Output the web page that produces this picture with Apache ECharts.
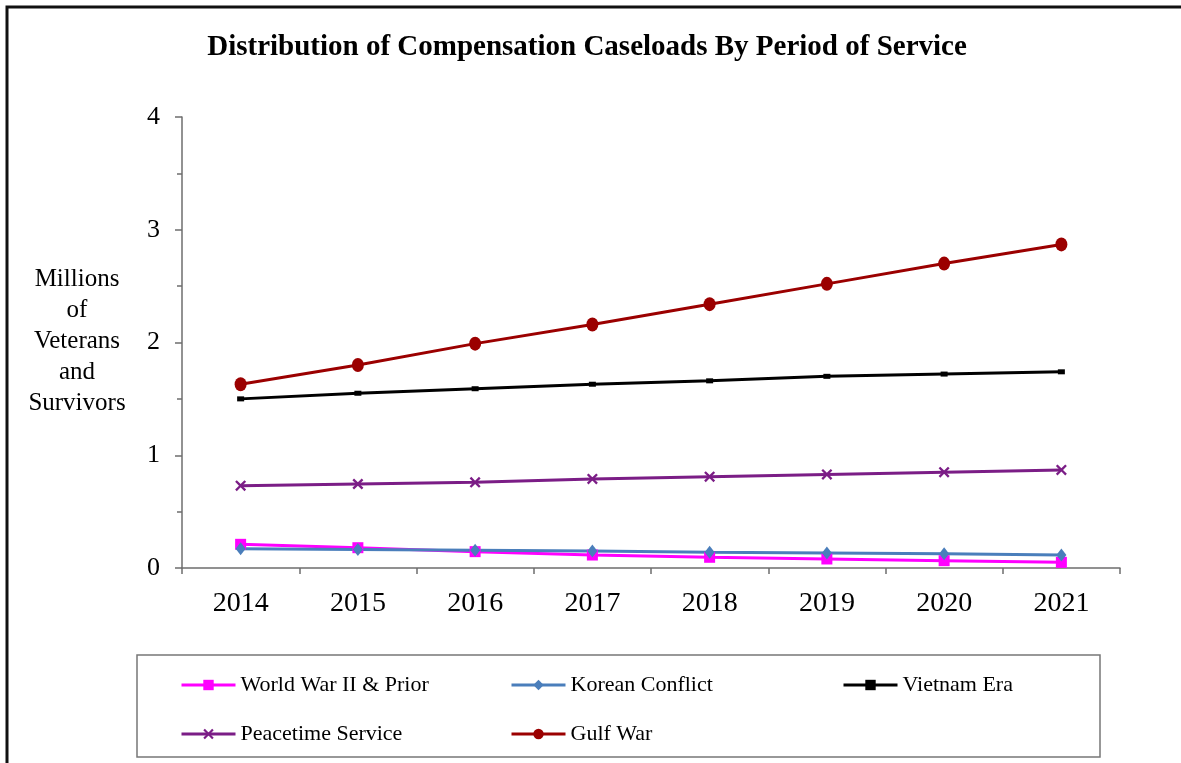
<!DOCTYPE html>
<html>
<head>
<meta charset="utf-8">
<script src="https://cdn.jsdelivr.net/npm/echarts@6/dist/echarts.min.js"></script>
<style>
  html, body { margin: 0; padding: 0; background: #fff; }
  #chart { width: 1181px; height: 763px; }
</style>
</head>
<body>
<div id="chart"></div>
<script>
// Fiscal years shown on the horizontal axis
const years = ['2014', '2015', '2016', '2017', '2018', '2019', '2020', '2021'];

// Compensation caseloads, millions of veterans and survivors
const worldWarII = [0.21, 0.18, 0.145, 0.115, 0.095, 0.08, 0.065, 0.05];
const korean     = [0.17, 0.165, 0.157, 0.15, 0.14, 0.133, 0.127, 0.115];
const vietnam    = [1.50, 1.55, 1.59, 1.63, 1.66, 1.70, 1.72, 1.74];
const peacetime  = [0.73, 0.745, 0.76, 0.79, 0.81, 0.83, 0.85, 0.87];
const gulfWar    = [1.63, 1.80, 1.99, 2.16, 2.34, 2.52, 2.70, 2.87];

const yTicks = [0, 1, 2, 3, 4];
const axisTitleLines = ['Millions', 'of', 'Veterans', 'and', 'Survivors'];

const SERIF = "'Liberation Serif', 'Times New Roman', serif";
const crossPath = 'path://M0,1.5 L1.5,0 L5,3.5 L8.5,0 L10,1.5 L6.5,5 L10,8.5 L8.5,10 L5,6.5 L1.5,10 L0,8.5 L3.5,5 Z';

const chart = echarts.init(document.getElementById('chart'), null, { renderer: 'canvas' });

function lineSeries(name, data, color, symbol, size) {
  return {
    name: name,
    type: 'line',
    data: data,
    symbol: symbol,
    symbolSize: size,
    showSymbol: true,
    lineStyle: { color: color, width: 3 },
    itemStyle: { color: color },
    emphasis: { disabled: true },
    z: 3
  };
}

const legendText = { fontFamily: SERIF, fontSize: 22, color: '#000' };
function legendColumn(left, names) {
  return {
    data: names,
    orient: 'vertical',
    left: left,
    top: 674,
    padding: 0,
    itemWidth: 54,
    itemHeight: 13,
    itemGap: 27,
    selectedMode: false,
    lineStyle: { width: 3 },
    textStyle: legendText
  };
}

chart.setOption({
  animation: false,
  backgroundColor: '#fff',
  title: {
    text: 'Distribution of Compensation Caseloads By Period of Service',
    left: 582,
    top: 28,
    textAlign: 'center',
    textStyle: { fontFamily: SERIF, fontWeight: 'bold', fontSize: 29, color: '#000' }
  },
  legend: [
    legendColumn(180, ['World War II & Prior', 'Peacetime Service']),
    legendColumn(510, ['Korean Conflict', 'Gulf War']),
    legendColumn(842, [{ name: 'Vietnam Era', itemStyle: { opacity: 1 } }])
  ],
  grid: { left: 182, right: 61, top: 117, bottom: 195, containLabel: false },
  xAxis: {
    type: 'category',
    data: years,
    boundaryGap: true,
    axisLine: { lineStyle: { color: '#6e6e6e', width: 1.5 } },
    axisTick: { show: true, length: 6, lineStyle: { color: '#6e6e6e', width: 1.5 } },
    axisLabel: { fontFamily: SERIF, fontSize: 28, color: '#000', margin: 22 },
    splitLine: { show: false }
  },
  yAxis: {
    type: 'value',
    min: yTicks[0],
    max: yTicks[yTicks.length - 1],
    interval: 1,
    axisLine: { show: true, lineStyle: { color: '#6e6e6e', width: 1.5 } },
    axisTick: { show: true, length: 7, lineStyle: { color: '#6e6e6e', width: 1.5 } },
    minorTick: { show: true, splitNumber: 2, length: 5, lineStyle: { color: '#6e6e6e', width: 1.5 } },
    axisLabel: { fontFamily: SERIF, fontSize: 26, color: '#000', margin: 22 },
    splitLine: { show: false }
  },
  graphic: [
    {
      type: 'rect',
      shape: { x: 7, y: 7, width: 1300, height: 900 },
      style: { fill: 'none', stroke: '#111', lineWidth: 3 },
      silent: true
    },
    {
      type: 'rect',
      shape: { x: 137, y: 655, width: 963, height: 102 },
      style: { fill: 'none', stroke: '#777', lineWidth: 1.5 },
      silent: true
    },
    {
      type: 'text',
      x: 77,
      y: 264,
      style: {
        text: axisTitleLines.join('\n'),
        fontFamily: SERIF,
        fontSize: 25,
        lineHeight: 31,
        fill: '#000',
        align: 'center'
      },
      silent: true
    }
  ],
  series: [
    lineSeries('World War II & Prior', worldWarII, '#ff00ff', 'rect', 11),
    lineSeries('Korean Conflict', korean, '#4a7ebb', 'diamond', [10, 13]),
    lineSeries('Vietnam Era', vietnam, '#000000', 'rect', [7, 5]),
    lineSeries('Peacetime Service', peacetime, '#7b1d86', crossPath, 11),
    lineSeries('Gulf War', gulfWar, '#9b0000', 'circle', [12, 14])
  ]
});
</script>
</body>
</html>
